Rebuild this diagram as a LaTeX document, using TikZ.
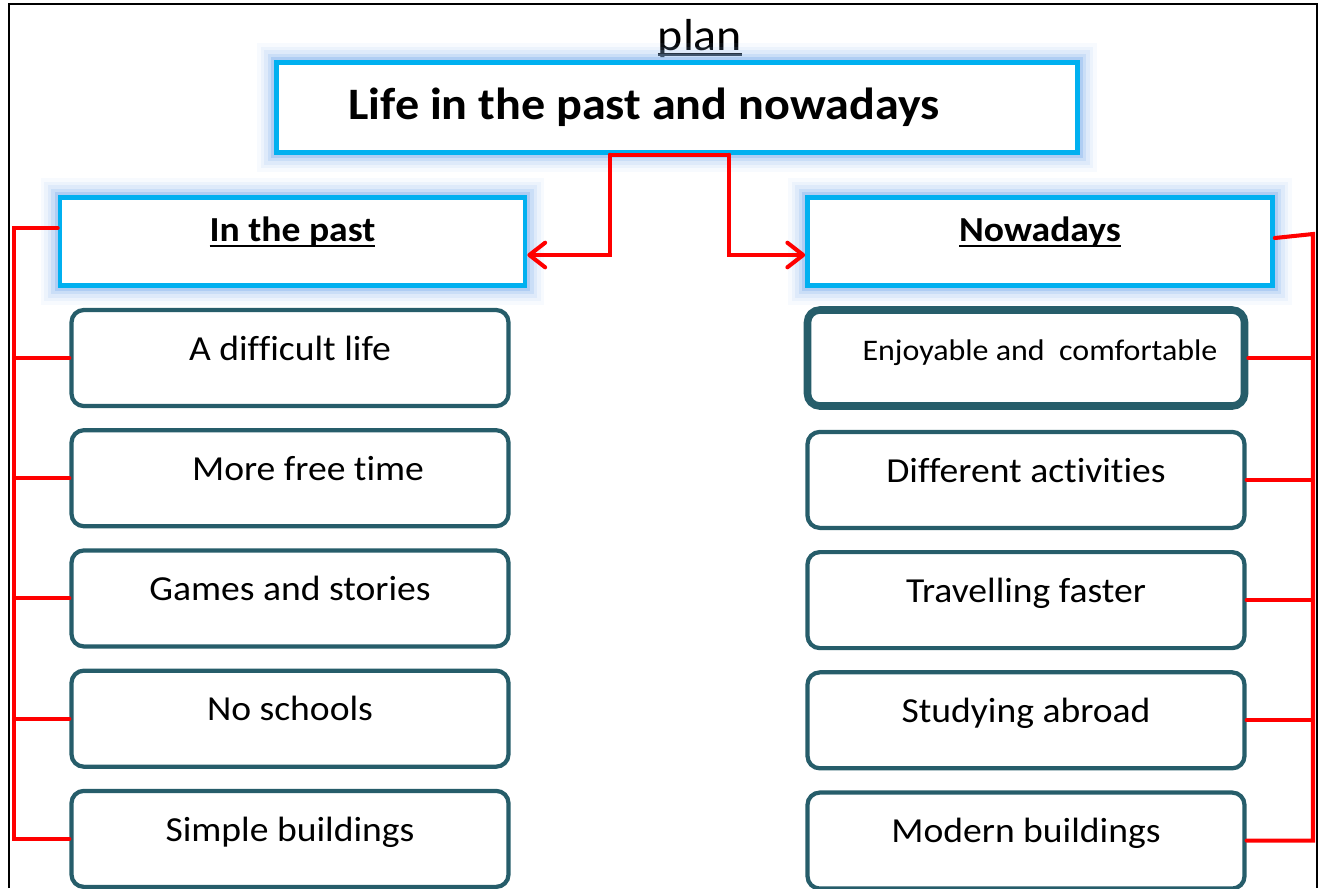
\documentclass[tikz,border=0pt]{standalone}
\usepackage{fontspec}
\setmainfont[FakeStretch=1.07, Ligatures=NoCommon]{Carlito}
\usetikzlibrary{positioning,arrows.meta}
\definecolor{skyedge}{HTML}{00B0F0}
\definecolor{glowblue}{HTML}{8DB8EE}
\definecolor{tealedge}{HTML}{265D6A}
\newsavebox{\ulbox}
\newcommand{\ulword}[1]{\sbox{\ulbox}{#1}\rlap{\vrule height -1.8pt depth 3.4pt width \wd\ulbox}\usebox{\ulbox}}

\begin{document}
\begin{tikzpicture}[x=0.2mm, y=-0.2mm,
  headbox/.style={draw=skyedge, line width=2.6pt, fill=white, align=center,
    preaction={draw=glowblue, line width=22pt, opacity=0.07},
    preaction={draw=glowblue, line width=18pt, opacity=0.1},
    preaction={draw=glowblue, line width=14pt, opacity=0.15},
    preaction={draw=glowblue, line width=10pt, opacity=0.25},
    preaction={draw=glowblue, line width=6pt, opacity=0.45}},
  itembox/.style={draw=tealedge, line width=2.4pt, rounded corners=7pt, fill=white,
    minimum width=8.74cm, minimum height=1.92cm,
    font=\fontsize{20}{24}\selectfont, text height=0.82em, text depth=0.56em},
  redline/.style={red, line width=2.3pt, line cap=round},
  redarr/.style={redline, -{Straight Barb[length=9pt, width=14pt, round]}}
]
  \useasboundingbox (0,0) rectangle (1321,888);
  % page frame
  \draw[line width=1.4pt] (9,888) -- (9,4) -- (1317,4) -- (1317,888);

  % Top: plan and title
  \node[font=\fontsize{25.5}{30}\selectfont, anchor=base] (plan) at (700,50) {\ulword{plan}};
  \node[headbox, minimum width=16.02cm, minimum height=1.8cm,
        font=\fontsize{25.6}{30}\selectfont\bfseries] (title) at (677,107.5)
    {Life in the past and nowadays\hspace*{1.32cm}};

  % Column heads
  \node[headbox, minimum width=9.3cm, minimum height=1.76cm,
        font=\fontsize{20}{24}\selectfont\bfseries, text height=0.7em, text depth=0.7em]
    (past) at (292.5,241.5) {\ulword{In the past}};
  \node[headbox, minimum width=9.3cm, minimum height=1.76cm,
        font=\fontsize{20}{24}\selectfont\bfseries, text height=0.7em, text depth=0.7em]
    (now) at (1040,241.5) {\ulword{Nowadays}};

  \draw[redline] ([xshift=-1.34cm]title.south) -- ([xshift=1.04cm]title.south);
  \draw[redarr] ([xshift=-1.34cm]title.south) |- ([yshift=-0.27cm]past.east);
  \draw[redarr] ([xshift=1.04cm]title.south) |- ([yshift=-0.27cm]now.west);

  % In the past column
  \node[itembox] (ip1) at (290,358) {A difficult life};
  \node[itembox, below=0.4cm of ip1] (ip2) {\hspace*{0.72cm}More free time};
  \node[itembox, below=0.4cm of ip2] (ip3) {Games and stories};
  \node[itembox, below=0.4cm of ip3] (ip4) {No schools};
  \node[itembox, below=0.4cm of ip4] (ip5) {Simple buildings};

  % Nowadays column
  \node[itembox, line width=4.3pt, font=\fontsize{17}{20}\selectfont] (nw1) at (1026,358)
    {\hspace*{0.56cm}Enjoyable and \ comfortable};
  \node[itembox, below=0.4cm of nw1] (nw2) {Different activities};
  \node[itembox, below=0.4cm of nw2] (nw3) {Travelling faster};
  \node[itembox, below=0.4cm of nw3] (nw4) {Studying abroad};
  \node[itembox, below=0.4cm of nw4] (nw5) {Modern buildings};

  % left bracket
  \coordinate (lspine) at (14,0);
  \draw[redline] ([yshift=0.27cm]past.west) -| (lspine |- ip5.west) -- (ip5.west);
  \foreach \i in {1,...,4}
    \draw[redline] (lspine |- ip\i.west) -- (ip\i.west);

  % right bracket
  \coordinate (rspine) at (1313,0);
  \draw[redline] ([yshift=0.07cm]now.east) -- ([yshift=0.15cm]rspine |- now.east)
    -- (rspine |- nw5.east) -- (nw5.east);
  \foreach \i in {1,...,4}
    \draw[redline] (nw\i.east) -- (rspine |- nw\i.east);
\end{tikzpicture}
\end{document}
